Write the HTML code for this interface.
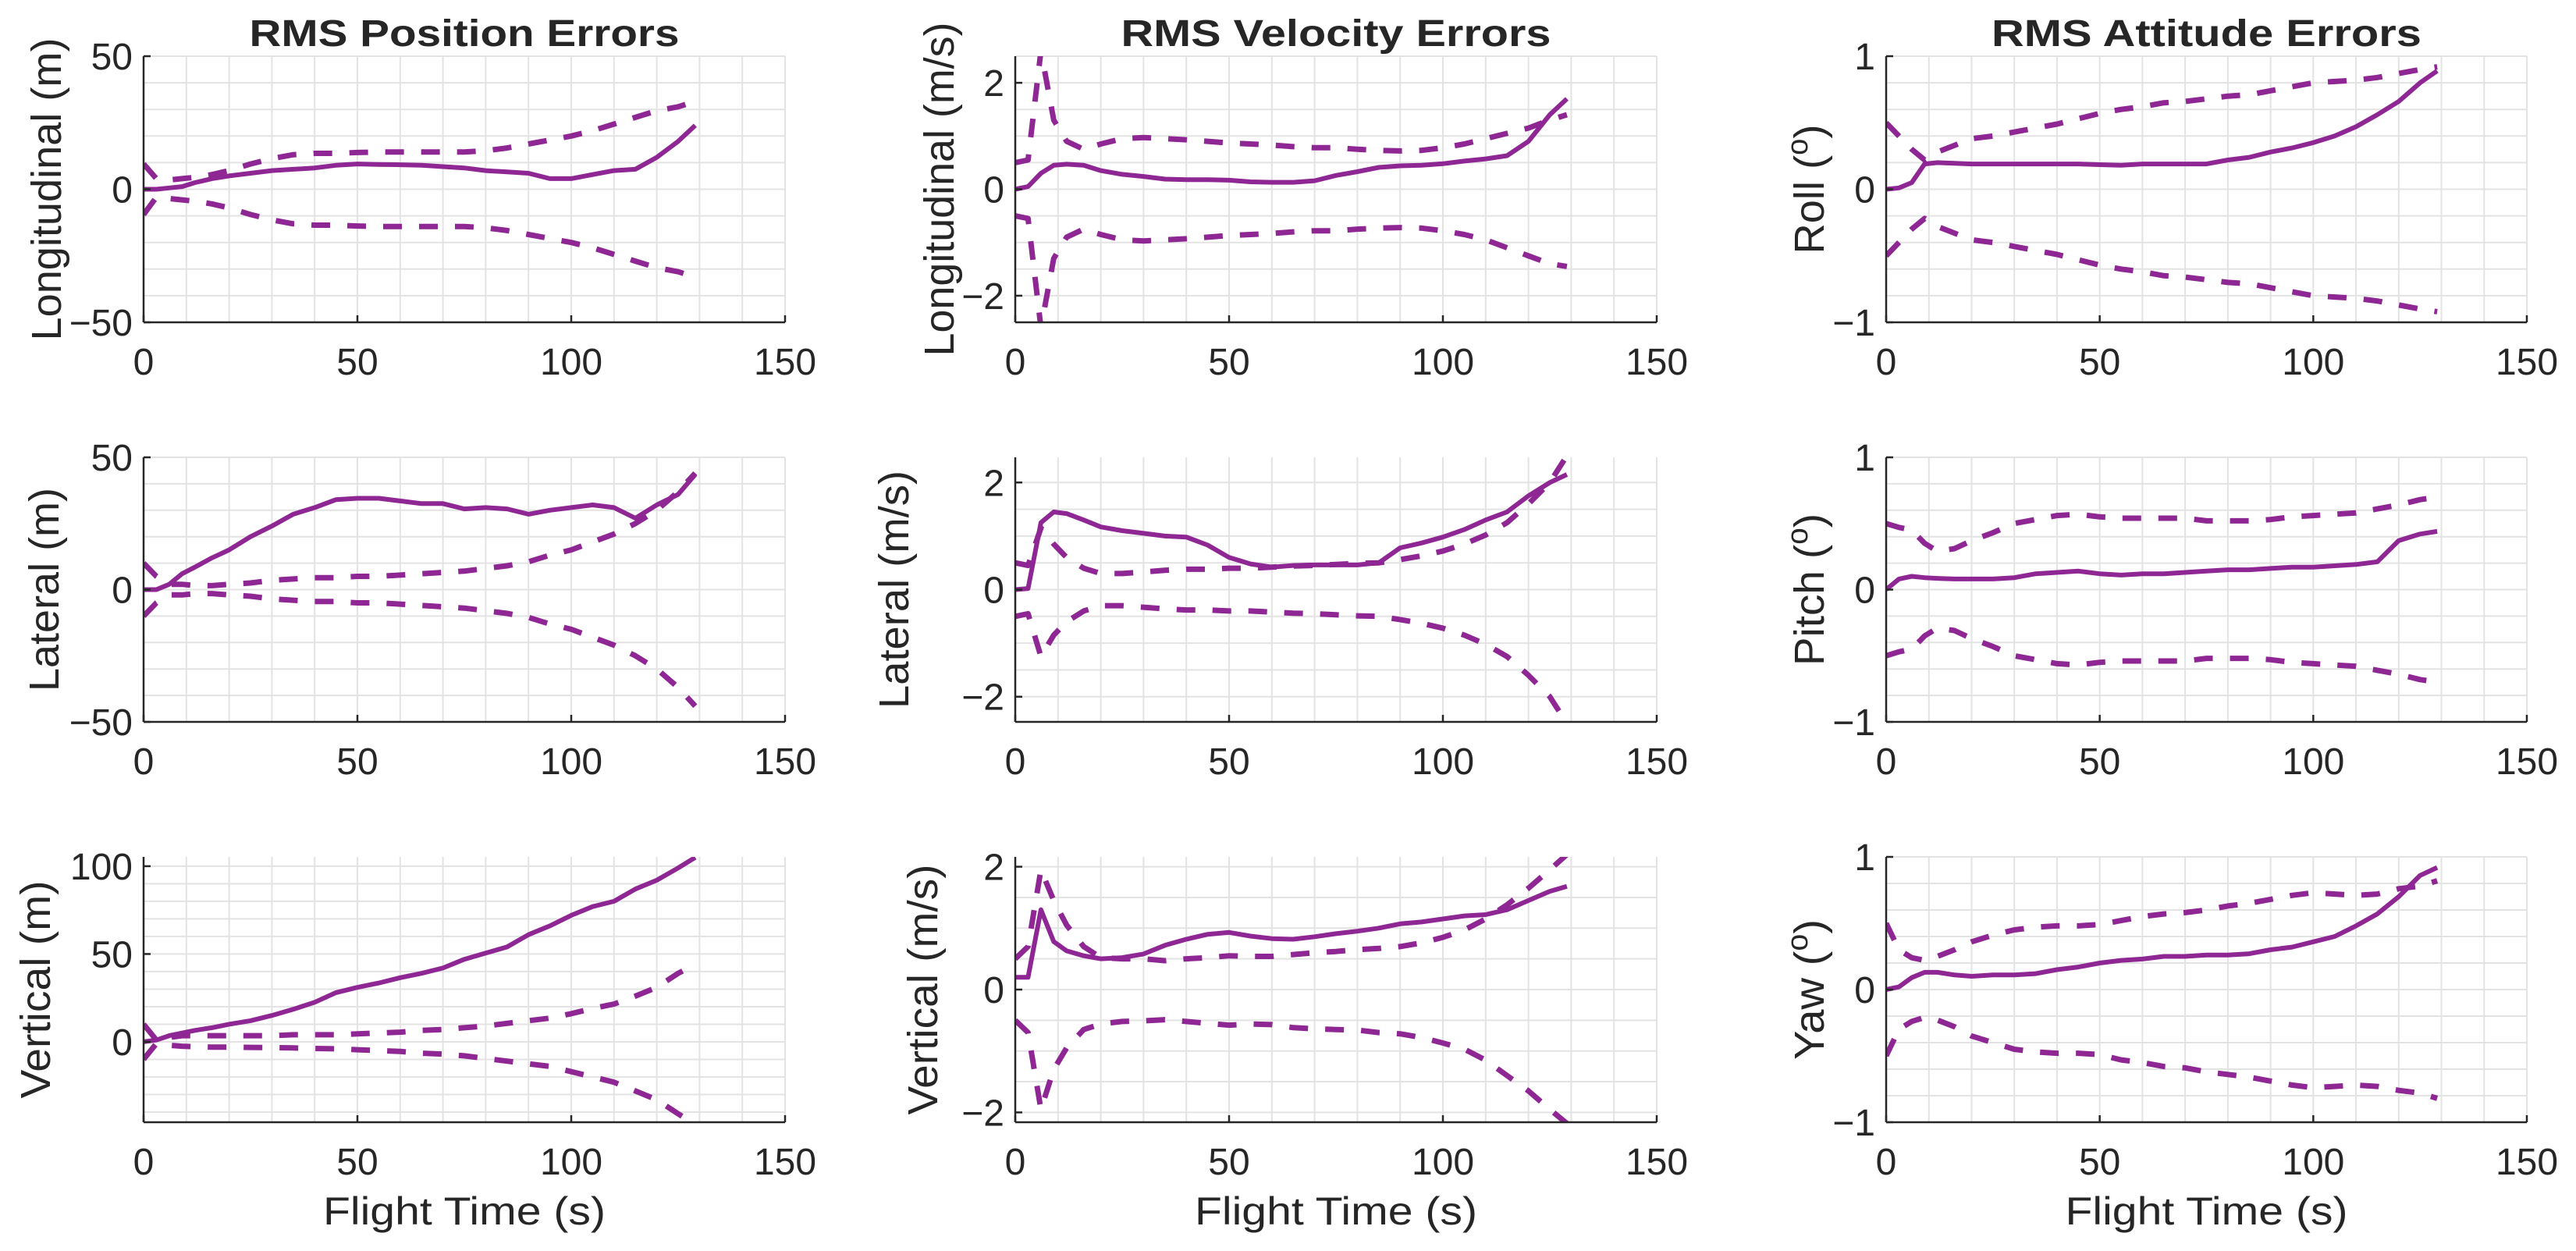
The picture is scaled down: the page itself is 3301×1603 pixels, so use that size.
<!DOCTYPE html>
<html><head><meta charset="utf-8"><style>
html,body{margin:0;padding:0;background:#fff;}
svg{display:block;}
text{font-family:"Liberation Sans",sans-serif;fill:#262626;}
</style></head><body>
<svg id="fig" width="3301" height="1603" viewBox="0 0 3301 1603" xmlns="http://www.w3.org/2000/svg"></svg>
<script>
const T = [0,3,6,9,12,16,20,25,30,35,40,45,50,55,60,65,70,75,80,85,90,95,100,105,110,115,120,125,129];
const xTicks = [0,50,100,150];

const posLongMean = [0,0,.5,1,2.5,4,5,6,7,7.5,8,9,9.5,9.3,9.2,9,8.5,8,7,6.5,6,4,4,5.5,7,7.5,12,18,24];
const posLongUp = [9.5,4,3.5,4,4.5,5.5,7,9.5,11.5,13,13.5,13.5,13.8,14,14,14,14,14,14.5,15.5,17,18.5,20,22,24.5,27,29.5,31,33];
const posLongLo = [-9.5,-3,-3.5,-4,-4.5,-5.5,-7,-9.5,-11.5,-13,-13.5,-13.5,-13.8,-14,-14,-14,-14,-14,-14.5,-15.5,-17,-18.5,-20,-22,-24.5,-27,-29.5,-31,-33];

const velLongMean = [0,.05,.3,.45,.47,.45,.35,.28,.24,.19,.18,.18,.17,.14,.13,.13,.16,.26,.33,.41,.44,.45,.48,.53,.57,.63,.9,1.4,1.7];
const velLongUp = [.5,.55,2.6,1.3,.9,.75,.85,.95,.97,.95,.93,.9,.87,.85,.83,.8,.78,.78,.75,.73,.72,.73,.78,.85,.95,1.05,1.15,1.3,1.4];
const velLongLo = [-.5,-.55,-2.6,-1.3,-.9,-.75,-.85,-.95,-.97,-.95,-.93,-.9,-.87,-.85,-.83,-.8,-.78,-.78,-.75,-.73,-.72,-.73,-.78,-.85,-.95,-1.1,-1.25,-1.4,-1.45];

const rollMean = [0,.01,.05,.19,.2,.195,.19,.19,.19,.19,.19,.19,.185,.18,.19,.19,.19,.19,.22,.24,.28,.31,.35,.4,.47,.56,.66,.8,.89];
const rollUp = [.5,.4,.3,.22,.28,.33,.38,.4,.43,.46,.49,.53,.57,.6,.62,.65,.66,.68,.7,.71,.74,.77,.8,.81,.82,.84,.87,.9,.92];
const rollLo = [-.5,-.4,-.3,-.22,-.28,-.33,-.38,-.4,-.43,-.46,-.49,-.53,-.57,-.6,-.62,-.65,-.66,-.68,-.7,-.71,-.74,-.77,-.8,-.81,-.82,-.84,-.87,-.9,-.92];

const posLatMean = [0,0,2,6,8.5,12,15,20,24,28.5,31,34,34.5,34.5,33.5,32.5,32.5,30.5,31,30.5,28.5,30,31,32,31,27,32,36,43.5];
const posLatUp = [10,5,2,2,1.5,1.5,2,2.5,3.5,4,4.5,4.5,5,5,5.5,6,6.5,7,8,9,10.5,13,15,18,21,25,30,37,44];
const posLatLo = [-10,-5,-2,-2,-1.5,-1.5,-2,-2.5,-3.5,-4,-4.5,-4.5,-5,-5,-5.5,-6,-6.5,-7,-8,-9,-10.5,-13,-15,-18,-21,-25,-30,-37,-44];

const velLatMean = [0,.02,1.25,1.45,1.42,1.3,1.17,1.1,1.05,1.0,.98,.83,.6,.48,.42,.45,.46,.46,.46,.5,.78,.87,.98,1.12,1.3,1.45,1.75,2.0,2.15];
const velLatUp = [.5,.45,1.15,.85,.6,.4,.3,.3,.33,.36,.38,.38,.4,.4,.42,.44,.45,.47,.49,.5,.56,.63,.72,.85,1.02,1.25,1.6,2.0,2.5];
const velLatLo = [-.5,-.45,-1.25,-.85,-.6,-.4,-.3,-.3,-.33,-.36,-.38,-.38,-.4,-.4,-.42,-.44,-.45,-.47,-.49,-.5,-.56,-.63,-.72,-.85,-1.02,-1.25,-1.6,-2.0,-2.5];

const pitchMean = [0,.08,.1,.09,.085,.08,.08,.08,.09,.12,.13,.14,.12,.11,.12,.12,.13,.14,.15,.15,.16,.17,.17,.18,.19,.21,.37,.42,.44];
const pitchUp = [.5,.47,.45,.35,.29,.31,.37,.43,.5,.53,.56,.57,.55,.54,.54,.54,.54,.52,.52,.52,.53,.55,.56,.57,.58,.61,.64,.68,.7];
const pitchLo = [-.5,-.47,-.45,-.35,-.29,-.31,-.37,-.43,-.5,-.53,-.56,-.57,-.55,-.54,-.54,-.54,-.54,-.52,-.52,-.52,-.53,-.55,-.56,-.57,-.58,-.61,-.64,-.68,-.7];

const posVertMean = [0,1,3.5,5,6.5,8,10,12,15,18.5,22.5,28,31,33.5,36.5,39,42,47,50.5,54,61,66,72,77,80,87,92,99,105];
const posVertUp = [10,1,2.5,3.5,3.5,3.5,3.5,3.5,3.5,4,4,4,4.5,5,5.5,6.5,7,8,9,10.5,12,13.5,16,19,21.5,26,31,39,44];
const posVertLo = [-10,-1,-2,-2.5,-2.8,-3,-3,-3.2,-3.3,-3.5,-3.8,-4,-4.5,-5,-5.5,-6.5,-7,-8,-9.5,-11,-12.5,-14,-17,-20,-23,-28,-33,-41,-47];

const velVertMean = [.2,.2,1.3,.78,.63,.55,.5,.52,.58,.72,.82,.9,.93,.87,.83,.82,.86,.91,.95,1.0,1.07,1.1,1.15,1.2,1.22,1.3,1.45,1.6,1.68];
const velVertUp = [.5,.7,1.95,1.45,1.05,.7,.52,.5,.5,.47,.5,.52,.55,.54,.54,.57,.6,.62,.65,.67,.7,.76,.85,.97,1.15,1.38,1.65,1.95,2.2];
const velVertLo = [-.5,-.7,-1.95,-1.3,-.95,-.65,-.56,-.52,-.51,-.49,-.52,-.55,-.58,-.56,-.57,-.62,-.64,-.65,-.66,-.7,-.72,-.78,-.87,-.97,-1.15,-1.4,-1.65,-1.95,-2.18];

const yawMean = [0,.02,.09,.13,.13,.11,.1,.11,.11,.12,.15,.17,.2,.22,.23,.25,.25,.26,.26,.27,.3,.32,.36,.4,.48,.57,.7,.86,.92];
const yawUp = [.5,.3,.24,.22,.25,.3,.36,.41,.45,.47,.48,.48,.49,.52,.55,.57,.58,.6,.63,.65,.68,.71,.73,.72,.71,.72,.76,.78,.82];
const yawLo = [-.5,-.3,-.24,-.21,-.23,-.28,-.35,-.4,-.45,-.47,-.48,-.48,-.49,-.53,-.55,-.58,-.59,-.62,-.64,-.66,-.69,-.72,-.74,-.73,-.72,-.73,-.76,-.78,-.82];

const posTicks = [-50,0,50];
const vertTicks = [0,50,100];
const velTicks = [-2,0,2];
const attTicks = [-1,0,1];

const NS = "http://www.w3.org/2000/svg";
const svg = document.getElementById('fig');
const COLOR = "#8E2793";
const cols = [[184,1006],[1301,2123],[2417,3238]];
const rows = [[72,413],[586,925],[1098,1438]];

const panels = [
 {r:0,c:0,name:'long-pos',ylim:[-50,50],ticks:posTicks,minor:10,label:'Longitudinal (m)',lx:60,ll:388,m:posLongMean,u:posLongUp,l:posLongLo},
 {r:0,c:1,name:'long-vel',ylim:[-2.5,2.5],ticks:velTicks,minor:0.5,label:'Longitudinal (m/s)',lx:1204,ll:428,m:velLongMean,u:velLongUp,l:velLongLo},
 {r:0,c:2,name:'roll',ylim:[-1,1],ticks:attTicks,minor:0.2,label:'Roll',deg:true,lx:2319,ll:166,m:rollMean,u:rollUp,l:rollLo},
 {r:1,c:0,name:'lat-pos',ylim:[-50,50],ticks:posTicks,minor:10,label:'Lateral (m)',lx:57,ll:261,m:posLatMean,u:posLatUp,l:posLatLo},
 {r:1,c:1,name:'lat-vel',ylim:[-2.47,2.47],ticks:velTicks,minor:0.5,label:'Lateral (m/s)',lx:1146,ll:305,m:velLatMean,u:velLatUp,l:velLatLo},
 {r:1,c:2,name:'pitch',ylim:[-1,1],ticks:attTicks,minor:0.2,label:'Pitch',deg:true,lx:2319,ll:195,m:pitchMean,u:pitchUp,l:pitchLo},
 {r:2,c:0,name:'vert-pos',ylim:[-45.8,105.3],ticks:vertTicks,minor:10,label:'Vertical (m)',lx:46,ll:279,m:posVertMean,u:posVertUp,l:posVertLo},
 {r:2,c:1,name:'vert-vel',ylim:[-2.16,2.16],ticks:velTicks,minor:0.5,label:'Vertical (m/s)',lx:1183,ll:321,m:velVertMean,u:velVertUp,l:velVertLo},
 {r:2,c:2,name:'yaw',ylim:[-1,1],ticks:attTicks,minor:0.2,label:'Yaw',deg:true,lx:2319,ll:180,m:yawMean,u:yawUp,l:yawLo}
];
const titles = ['RMS Position Errors','RMS Velocity Errors','RMS Attitude Errors'];

function mk(tag, attrs, parent){
  const e = document.createElementNS(NS, tag);
  for (const k in attrs) e.setAttribute(k, attrs[k]);
  (parent||svg).appendChild(e);
  return e;
}

titles.forEach((t,i)=>{
  const e = mk('text',{x:(cols[i][0]+cols[i][1])/2,y:59,'text-anchor':'middle','font-size':48,'font-weight':'bold',textLength:551,lengthAdjust:'spacingAndGlyphs',fill:'#000'});
  
  
  e.textContent = t;
});

panels.forEach((p, idx)=>{
  const [x0,x1] = cols[p.c], [y0,y1] = rows[p.r];
  const X = v => x0 + (v-0)/(150-0)*(x1-x0);
  const Y = v => y1 - (v-p.ylim[0])/(p.ylim[1]-p.ylim[0])*(y1-y0);
  const g = mk('g',{});
  
  
  const cp = mk('clipPath',{id:'cp'+idx}, g);
  mk('rect',{x:x0,y:y0,width:x1-x0,height:y1-y0}, cp);
  const grid = mk('g',{stroke:'#e3e3e3','stroke-width':2}, g);
  
  
  for (let v=10; v<=150; v+=10) mk('line',{x1:X(v),x2:X(v),y1:y0,y2:y1}, grid);
  const start = Math.ceil(p.ylim[0]/p.minor - 1e-6);
  for (let k=start; k*p.minor<=p.ylim[1]+1e-9; k++){
    const v = k*p.minor; const yy = Y(v);
    if (yy < y0-0.5 || yy > y1+0.5) continue;
    mk('line',{x1:x0,x2:x1,y1:yy,y2:yy}, grid);
  }
  const pts = arr => arr.map((v,i)=>X(T[i]).toFixed(1)+','+Y(v).toFixed(1)).join(' ');
  const ser = mk('g',{'clip-path':'url(#cp'+idx+')',fill:'none',stroke:COLOR,'stroke-linejoin':'round'}, g);
  const up = mk('polyline',{points:pts(p.u),'stroke-width':7,'stroke-dasharray':'24 22'}, ser);
  
  
  const lo = mk('polyline',{points:pts(p.l),'stroke-width':7,'stroke-dasharray':'24 22'}, ser);
  
  
  const mn = mk('polyline',{points:pts(p.m),'stroke-width':6}, ser);
  
  
  const ax = mk('g',{stroke:'#262626','stroke-width':2.5}, g);
  
  
  mk('line',{x1:x0,x2:x0,y1:y0,y2:y1}, ax);
  mk('line',{x1:x0,x2:x1,y1:y1,y2:y1}, ax);
  xTicks.forEach(v=>{
    mk('line',{x1:X(v),x2:X(v),y1:y1,y2:y1-9}, ax);
    const t = mk('text',{x:X(v),y:y1+67,'text-anchor':'middle','font-size':48}, g);
    
    
    t.textContent = v;
  });
  p.ticks.forEach(v=>{
    mk('line',{x1:x0,x2:x0+9,y1:Y(v),y2:Y(v)}, ax);
    const t = mk('text',{x:x0-14,y:Y(v)+17,'text-anchor':'end','font-size':48}, g);
    
    
    t.textContent = (v<0?'\u2212':'') + Math.abs(v);
  });
  const cy = (y0+y1)/2;
  const lab = mk('text',{x:0,y:0,'text-anchor':'middle','font-size':54,textLength:p.ll,lengthAdjust:'spacingAndGlyphs',transform:`translate(${p.lx+18},${cy}) rotate(-90)`,fill:'#262626'}, g);
  
  
  if (p.deg){
    lab.textContent = p.label + ' (';
    const s = mk('tspan',{'baseline-shift':'super','font-size':38}, lab);
    s.textContent = 'o';
    const e = mk('tspan',{}, lab);
    e.textContent = ')';
  } else lab.textContent = p.label;
  if (p.r===2){
    const xl = mk('text',{x:(x0+x1)/2,y:1569,'text-anchor':'middle','font-size':50,textLength:362,lengthAdjust:'spacingAndGlyphs'}, g);
    
    
    xl.textContent = 'Flight Time (s)';
  }
});
</script>
</body></html>
